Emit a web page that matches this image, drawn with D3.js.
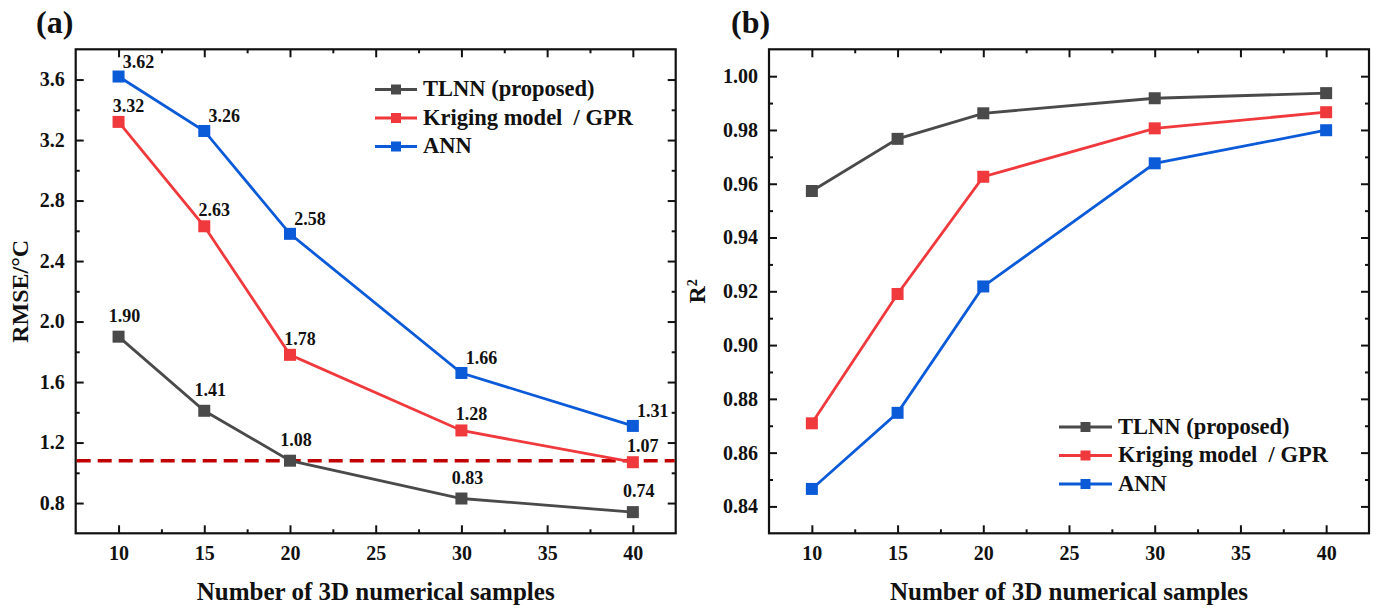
<!DOCTYPE html>
<html>
<head>
<meta charset="utf-8">
<script src="https://cdn.jsdelivr.net/npm/d3@7"></script>
<style>
  html, body { margin: 0; padding: 0; background: #fff; }
  svg text { font-family: "Liberation Serif", "LiberationSerif", Tinos, "Times New Roman", Times, "Nimbus Roman", "DejaVu Serif", serif; font-weight: 700; fill: #111; white-space: pre; }
</style>
</head>
<body>
<svg id="chart" width="1380" height="609"></svg>
<script>
// Sample counts on the x axis
const samples = [10, 15, 20, 30, 40];

// Panel (a): RMSE in °C
const rmseTLNN = [1.90, 1.41, 1.08, 0.83, 0.74];
const rmseKriging = [3.32, 2.63, 1.78, 1.28, 1.07];
const rmseANN = [3.62, 3.26, 2.58, 1.66, 1.31];
const rmseReference = 1.08;

// Panel (b): coefficient of determination
const r2TLNN = [0.9573, 0.9767, 0.9862, 0.9918, 0.9937];
const r2Kriging = [0.8709, 0.9190, 0.9626, 0.9806, 0.9866];
const r2ANN = [0.8465, 0.8748, 0.9218, 0.9676, 0.9799];

const seriesNames = ["TLNN (proposed)", "Kriging model  / GPR", "ANN"];
const seriesColors = ["#4a4a4a", "#f0393c", "#0b5ad8"];

const xTicks = [10, 15, 20, 25, 30, 35, 40];
const xMinor = [12.5, 17.5, 22.5, 27.5, 32.5, 37.5];
const rmseTicks = [0.8, 1.2, 1.6, 2.0, 2.4, 2.8, 3.2, 3.6];
const rmseMinor = [1.0, 1.4, 1.8, 2.2, 2.6, 3.0, 3.4];
const r2Ticks = [0.84, 0.86, 0.88, 0.90, 0.92, 0.94, 0.96, 0.98, 1.00];
const r2Minor = [0.85, 0.87, 0.89, 0.91, 0.93, 0.95, 0.97, 0.99];

const svg = d3.select("#chart");

function drawPanel(cfg) {
  const g = svg.append("g");
  const x = d3.scaleLinear().domain([7.5, 42.5]).range([cfg.left, cfg.right]);
  const y = d3.scaleLinear().domain(cfg.yDomain).range([cfg.bottom, cfg.top]);

  const major = 8, minor = 4;
  const styleAxis = sel => {
    sel.attr("font-family", null).attr("font-size", null);
    sel.select(".domain").remove();
    sel.selectAll("line").attr("stroke", "#111").attr("stroke-width", 2);
    sel.selectAll("text").style("font-size", "20px").attr("fill", "#111");
  };

  // bottom
  g.append("g").attr("transform", `translate(0,${cfg.bottom})`)
    .call(d3.axisBottom(x).tickValues(xTicks).tickFormat(d3.format("d")).tickSizeInner(-major).tickSizeOuter(0).tickPadding(13))
    .call(styleAxis);
  g.append("g").attr("transform", `translate(0,${cfg.bottom})`)
    .call(d3.axisBottom(x).tickValues(xMinor).tickFormat("").tickSizeInner(-minor).tickSizeOuter(0))
    .call(styleAxis);
  // top
  g.append("g").attr("transform", `translate(0,${cfg.top})`)
    .call(d3.axisTop(x).tickValues(xTicks).tickFormat("").tickSizeInner(-major).tickSizeOuter(0))
    .call(styleAxis);
  g.append("g").attr("transform", `translate(0,${cfg.top})`)
    .call(d3.axisTop(x).tickValues(xMinor).tickFormat("").tickSizeInner(-minor).tickSizeOuter(0))
    .call(styleAxis);
  // left
  g.append("g").attr("transform", `translate(${cfg.left},0)`)
    .call(d3.axisLeft(y).tickValues(cfg.yTicks).tickFormat(d3.format(cfg.yFormat)).tickSizeInner(-major).tickSizeOuter(0).tickPadding(11))
    .call(styleAxis);
  g.append("g").attr("transform", `translate(${cfg.left},0)`)
    .call(d3.axisLeft(y).tickValues(cfg.yMinor).tickFormat("").tickSizeInner(-minor).tickSizeOuter(0))
    .call(styleAxis);
  // right
  g.append("g").attr("transform", `translate(${cfg.right},0)`)
    .call(d3.axisRight(y).tickValues(cfg.yTicks).tickFormat("").tickSizeInner(-major).tickSizeOuter(0))
    .call(styleAxis);
  g.append("g").attr("transform", `translate(${cfg.right},0)`)
    .call(d3.axisRight(y).tickValues(cfg.yMinor).tickFormat("").tickSizeInner(-minor).tickSizeOuter(0))
    .call(styleAxis);

  // frame
  g.append("rect")
    .attr("x", cfg.left).attr("y", cfg.top)
    .attr("width", cfg.right - cfg.left).attr("height", cfg.bottom - cfg.top)
    .attr("fill", "none").attr("stroke", "#111").attr("stroke-width", 2.2);

  // optional horizontal reference
  if (cfg.refValue != null) {
    g.append("line")
      .attr("x1", cfg.left + 1).attr("x2", cfg.right - 1)
      .attr("y1", y(cfg.refValue)).attr("y2", y(cfg.refValue))
      .attr("stroke", "#c00000").attr("stroke-width", 3.4)
      .attr("stroke-dasharray", "14,7");
  }

  const line = d3.line().x(d => x(d[0])).y(d => y(d[1]));
  const ms = 12;
  cfg.series.forEach((vals, i) => {
    const pts = samples.map((s, j) => [s, vals[j]]);
    g.append("path").datum(pts)
      .attr("d", line).attr("fill", "none")
      .attr("stroke", seriesColors[i]).attr("stroke-width", 2.8);
    g.selectAll(null).data(pts).enter().append("rect")
      .attr("x", d => x(d[0]) - ms / 2).attr("y", d => y(d[1]) - ms / 2)
      .attr("width", ms).attr("height", ms)
      .attr("fill", seriesColors[i]);
    if (cfg.labels) {
      const off = cfg.labelOffsets[i];
      g.selectAll(null).data(pts).enter().append("text")
        .attr("x", d => x(d[0]) + off[0]).attr("y", d => y(d[1]) + off[1])
        .attr("text-anchor", "middle").style("font-size", "18px")
        .text(d => d3.format(".2f")(d[1]));
    }
  });

  // legend
  const lg = cfg.legend;
  seriesNames.forEach((name, i) => {
    const by = lg.y + i * 28.5;
    const cy = by - 6.5;
    g.append("line").attr("x1", lg.x1).attr("x2", lg.x2).attr("y1", cy).attr("y2", cy)
      .attr("stroke", seriesColors[i]).attr("stroke-width", 2.8);
    g.append("rect").attr("x", (lg.x1 + lg.x2) / 2 - 5).attr("y", cy - 5)
      .attr("width", 10).attr("height", 10).attr("fill", seriesColors[i]);
    g.append("text").attr("x", lg.x2 + 6).attr("y", by)
      .style("font-size", "22.5px").text(name);
  });

  // axis titles
  g.append("text")
    .attr("x", (cfg.left + cfg.right) / 2).attr("y", 600)
    .attr("text-anchor", "middle").style("font-size", "25px")
    .text("Number of 3D numerical samples");

  const yl = g.append("text")
    .attr("transform", `translate(${cfg.yTitleX},${(cfg.top + cfg.bottom) / 2}) rotate(-90)`)
    .attr("text-anchor", "middle").style("font-size", "24px");
  cfg.yTitle(yl);

  g.append("text").attr("x", cfg.tagX).attr("y", 33)
    .style("font-size", "32px").text(cfg.tag);
}

drawPanel({
  left: 75.7, right: 675.7, top: 49.3, bottom: 533.3,
  yDomain: [0.6, 3.8], yTicks: rmseTicks, yMinor: rmseMinor, yFormat: ".1f",
  series: [rmseTLNN, rmseKriging, rmseANN],
  labels: true,
  labelOffsets: [[6, -15], [10, -10], [20, -8.5]],
  refValue: rmseReference,
  legend: { x1: 375, x2: 417, y: 96 },
  yTitleX: 28,
  yTitle: t => t.text("RMSE/°C"),
  tag: "(a)", tagX: 36
});

drawPanel({
  left: 769, right: 1369, top: 49.3, bottom: 533.3,
  yDomain: [0.83, 1.01], yTicks: r2Ticks, yMinor: r2Minor, yFormat: ".2f",
  series: [r2TLNN, r2Kriging, r2ANN],
  labels: false,
  refValue: null,
  legend: { x1: 1059, x2: 1112, y: 433.5 },
  yTitleX: 705,
  yTitle: t => {
    t.append("tspan").text("R");
    t.append("tspan").attr("dy", "-0.55em").style("font-size", "14px").text("2");
  },
  tag: "(b)", tagX: 731
});
</script>
</body>
</html>
